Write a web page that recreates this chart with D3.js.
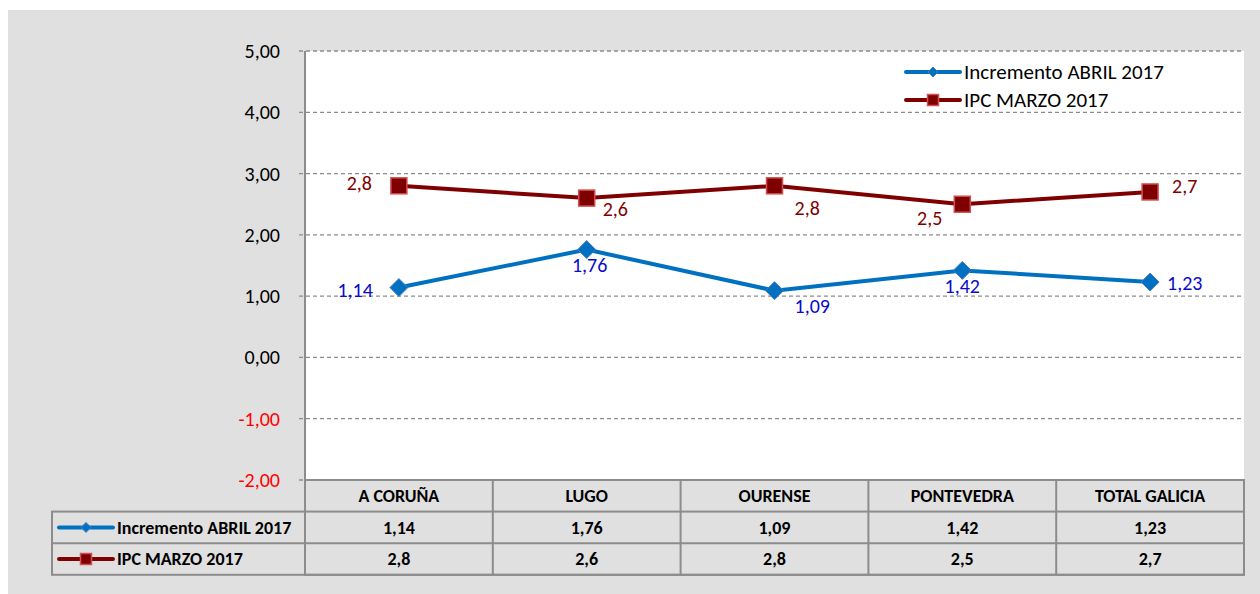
<!DOCTYPE html>
<html>
<head>
<meta charset="utf-8">
<script src="https://cdnjs.cloudflare.com/ajax/libs/d3/7.8.5/d3.min.js"></script>
<style>
  body { margin: 0; background: #fff; }
  svg { display: block; font-family: Carlito, Lato, "Liberation Sans", sans-serif; }
</style>
</head>
<body>
<div id="chart"></div>
<script>
    // chart data
    var categories = ['A CORUÑA', 'LUGO', 'OURENSE', 'PONTEVEDRA', 'TOTAL GALICIA'];
    var incremento = [1.14, 1.76, 1.09, 1.42, 1.23];
    var ipc = [2.8, 2.6, 2.8, 2.5, 2.7];
    var incrementoLabels = ['1,14', '1,76', '1,09', '1,42', '1,23'];
    var ipcLabels = ['2,8', '2,6', '2,8', '2,5', '2,7'];
    var yTicks = [-2, -1, 0, 1, 2, 3, 4, 5];
    var seriesNames = ['Incremento ABRIL 2017', 'IPC MARZO 2017'];

    var W = 1260, H = 594;
    var plot = { left: 305, right: 1244, top: 51, bottom: 480 };
    var rowH = 31.6;

    var svg = d3.select('#chart')
        .append('svg')
        .attr('width', W)
        .attr('height', H);

    // background
    svg.append('rect')
        .attr('x', 8).attr('y', 10)
        .attr('width', W - 8).attr('height', H - 10)
        .attr('fill', '#e0e0e0');

    svg.append('rect')
        .attr('x', plot.left).attr('y', plot.top)
        .attr('width', plot.right - plot.left).attr('height', plot.bottom - plot.top)
        .attr('fill', '#fff');

    var x = d3.scaleBand().domain(categories).range([plot.left, plot.right]);
    var y = d3.scaleLinear().domain([-2, 5]).range([plot.bottom, plot.top]);
    var cx = function (c) { return x(c) + x.bandwidth() / 2; };

    // gridlines
    svg.selectAll('.grid')
        .data(yTicks)
        .enter()
        .append('line')
        .attr('x1', plot.left - 6)
        .attr('x2', plot.right)
        .attr('y1', function (d) { return y(d); })
        .attr('y2', function (d) { return y(d); })
        .attr('stroke', '#8c8c8c')
        .attr('stroke-width', 1.3)
        .attr('stroke-dasharray', '4,3');

    // y axis
    svg.append('line')
        .attr('x1', plot.left).attr('x2', plot.left)
        .attr('y1', plot.top).attr('y2', plot.bottom + rowH * 3)
        .attr('stroke', '#8c8c8c').attr('stroke-width', 2);

    svg.selectAll('.ytick')
        .data(yTicks)
        .enter()
        .append('text')
        .attr('x', 280)
        .attr('y', function (d) { return y(d); })
        .attr('dy', '0.35em')
        .attr('text-anchor', 'end')
        .attr('font-size', '20px')
        .attr('fill', function (d) { return d < 0 ? '#ff0000' : '#000'; })
        .text(function (d) { return d3.format('.2f')(d).replace('.', ',').replace('\u2212', '-'); });

    // data table
    var tableTop = plot.bottom;
    var tableLeft = 52;
    var grid = svg.append('g').attr('stroke', '#8c8c8c').attr('stroke-width', 2).attr('fill', 'none');
    grid.append('rect')
        .attr('x', plot.left).attr('y', tableTop)
        .attr('width', plot.right - plot.left).attr('height', rowH * 3);
    grid.append('rect')
        .attr('x', tableLeft).attr('y', tableTop + rowH)
        .attr('width', plot.right - tableLeft).attr('height', rowH * 2);
    grid.append('line')
        .attr('x1', tableLeft).attr('x2', plot.right)
        .attr('y1', tableTop + rowH * 2).attr('y2', tableTop + rowH * 2);
    grid.selectAll('.col')
        .data(categories.slice(1))
        .enter()
        .append('line')
        .attr('x1', function (d) { return x(d); })
        .attr('x2', function (d) { return x(d); })
        .attr('y1', tableTop).attr('y2', tableTop + rowH * 3);

    var tableText = function (row, labels) {
        svg.selectAll('.t' + row)
            .data(labels)
            .enter()
            .append('text')
            .attr('x', function (d, i) { return cx(categories[i]); })
            .attr('y', tableTop + rowH * row + rowH / 2)
            .attr('dy', '0.35em')
            .attr('text-anchor', 'middle')
            .attr('font-size', '18px')
            .attr('font-weight', 'bold')
            .attr('fill', '#000')
            .text(function (d) { return d; });
    };
    tableText(0, categories);
    tableText(1, incrementoLabels);
    tableText(2, ipcLabels);

    // marker helpers
    var diamond = function (g, px, py, s) {
        g.append('path')
            .attr('d', 'M' + px + ',' + (py - s) + 'L' + (px + s) + ',' + py + 'L' + px + ',' + (py + s) + 'L' + (px - s) + ',' + py + 'Z')
            .attr('fill', '#0070c0')
            .attr('stroke', '#4a7ebb')
            .attr('stroke-width', 1);
    };
    var square = function (g, px, py, s) {
        g.append('rect')
            .attr('x', px - s).attr('y', py - s)
            .attr('width', s * 2).attr('height', s * 2)
            .attr('fill', '#7f0000')
            .attr('stroke', '#d05050')
            .attr('stroke-width', 1.5);
    };

    var legendSample = function (g, px, py, kind, s) {
        g.append('line')
            .attr('x1', px).attr('x2', px + 54)
            .attr('y1', py).attr('y2', py)
            .attr('stroke', kind === 0 ? '#0070c0' : '#7f0000')
            .attr('stroke-width', 4)
            .attr('stroke-linecap', 'round');
        if (kind === 0) { diamond(g, px + 27, py, s); } else { square(g, px + 27, py, s); }
    };

    // legend keys in the table
    var rowLegend = svg.append('g');
    seriesNames.forEach(function (name, i) {
        var py = tableTop + rowH * (i + 1) + rowH / 2;
        legendSample(rowLegend, 59, py, i, i === 0 ? 5 : 5.5);
        rowLegend.append('text')
            .attr('x', 117).attr('y', py)
            .attr('dy', '0.35em')
            .attr('font-size', '18px')
            .attr('font-weight', 'bold')
            .text(name);
    });

    // series lines
    var line = d3.line()
        .x(function (d, i) { return cx(categories[i]); })
        .y(function (d) { return y(d); });

    svg.append('path')
        .datum(ipc)
        .attr('d', line)
        .attr('fill', 'none')
        .attr('stroke', '#7f0000')
        .attr('stroke-width', 4);

    svg.append('path')
        .datum(incremento)
        .attr('d', line)
        .attr('fill', 'none')
        .attr('stroke', '#0070c0')
        .attr('stroke-width', 4);

    var marks = svg.append('g');
    ipc.forEach(function (v, i) { square(marks, cx(categories[i]), y(v), 8); });
    incremento.forEach(function (v, i) { diamond(marks, cx(categories[i]), y(v), 9); });

    // data labels: [anchor, dx, dy] relative to marker, as placed in the excel chart
    var ipcPlace = [['end', -27, -3], ['start', 16, 11], ['start', 20, 22], ['end', -20, 14], ['start', 22, -6]];
    var incPlace = [['end', -26, 2], ['middle', 3, 15], ['start', 20, 15], ['middle', 0, 16], ['start', 17, 1]];

    svg.selectAll('.ipcLabel')
        .data(ipcLabels)
        .enter()
        .append('text')
        .attr('x', function (d, i) { return cx(categories[i]) + ipcPlace[i][1]; })
        .attr('y', function (d, i) { return y(ipc[i]) + ipcPlace[i][2]; })
        .attr('dy', '0.35em')
        .attr('text-anchor', function (d, i) { return ipcPlace[i][0]; })
        .attr('font-size', '20px')
        .attr('fill', '#7f0000')
        .text(function (d) { return d; });

    svg.selectAll('.incLabel')
        .data(incrementoLabels)
        .enter()
        .append('text')
        .attr('x', function (d, i) { return cx(categories[i]) + incPlace[i][1]; })
        .attr('y', function (d, i) { return y(incremento[i]) + incPlace[i][2]; })
        .attr('dy', '0.35em')
        .attr('text-anchor', function (d, i) { return incPlace[i][0]; })
        .attr('font-size', '20px')
        .attr('fill', '#0a0acc')
        .text(function (d) { return d; });

    // legend in the plot
    var legend = svg.append('g');
    seriesNames.forEach(function (name, i) {
        var py = 72 + i * 28;
        legendSample(legend, 906, py, i, i === 0 ? 5 : 5.5);
        legend.append('text')
            .attr('x', 964).attr('y', py)
            .attr('dy', '0.35em')
            .attr('font-size', '21px')
            .text(name);
    });
</script>
</body>
</html>
